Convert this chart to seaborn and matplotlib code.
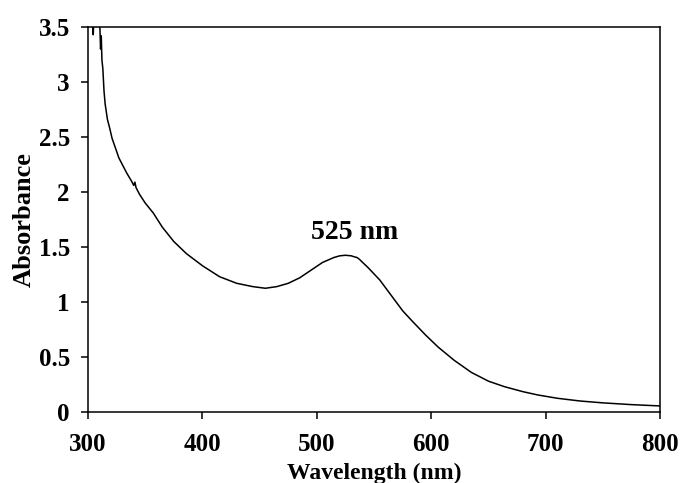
import matplotlib
matplotlib.use("Agg")
import matplotlib.pyplot as plt
import seaborn as sns
import pandas as pd

wavelength = [303.0, 304.0, 304.6, 305.2, 309.5, 310.4, 311.0, 311.6, 312.2, 313.0, 314.0,
              315.0, 317.0, 319.0, 321.0, 324.0, 327.0, 330.0, 334.0, 338.0, 340.0,
              341.0, 342.0, 345.0, 350.0, 357.0, 365.0, 375.0, 386.0, 400.0, 415.0,
              430.0, 444.0, 455.0, 465.0, 475.0, 485.0, 495.0, 505.0, 515.0, 520.0,
              525.0, 530.0, 533.0, 535.0, 537.0, 545.0, 555.0, 565.0, 575.0, 583.0,
              595.0, 606.0, 620.0, 635.0, 650.0, 664.0, 680.0, 693.0, 710.0, 730.0,
              750.0, 775.0, 800.0]
absorbance = [3.6, 3.6, 3.43, 3.6, 3.6, 3.5, 3.3, 3.42, 3.2, 3.12, 2.92,
              2.80, 2.66, 2.58, 2.49, 2.40, 2.31, 2.25, 2.17, 2.10, 2.06,
              2.09, 2.04, 1.98, 1.90, 1.81, 1.68, 1.55, 1.44, 1.33, 1.23,
              1.17, 1.14, 1.125, 1.14, 1.17, 1.22, 1.29, 1.36, 1.405, 1.42,
              1.425, 1.42, 1.41, 1.405, 1.39, 1.31, 1.20, 1.06, 0.92, 0.83,
              0.70, 0.59, 0.47, 0.36, 0.28, 0.23, 0.185, 0.155, 0.125, 0.10,
              0.083, 0.067, 0.055]

x_ticks = [300, 400, 500, 600, 700, 800]
y_ticks = [0, 0.5, 1, 1.5, 2, 2.5, 3, 3.5]
y_tick_labels = ["0", "0.5", "1", "1.5", "2", "2.5", "3", "3.5"]
peak_label = "525 nm"
peak_pos = (533, 1.63)

df = pd.DataFrame({"Wavelength": wavelength, "Absorbance": absorbance})

sns.set_style("ticks")
plt.rcParams["font.family"] = ["Liberation Serif", "DejaVu Serif"]
plt.rcParams["font.weight"] = "bold"
plt.rcParams["text.color"] = "black"
plt.rcParams["axes.labelcolor"] = "black"
plt.rcParams["xtick.color"] = "black"
plt.rcParams["ytick.color"] = "black"

fig = plt.figure(figsize=(6.82, 4.83), dpi=100)
ax = fig.add_axes([0.129, 0.147, 0.839, 0.797])

sns.lineplot(data=df, x="Wavelength", y="Absorbance", ax=ax, color="black",
             linewidth=1.1, sort=False)

ax.set_xlim(300, 800)
ax.set_ylim(0, 3.5)
ax.set_xticks(x_ticks)
ax.set_yticks(y_ticks)
ax.set_yticklabels(y_tick_labels)
for lab in ax.get_xticklabels() + ax.get_yticklabels():
    lab.set_fontweight("bold")
ax.tick_params(axis="both", direction="out", length=5, width=1.1,
               labelsize=18, color="black", labelcolor="black")
ax.tick_params(axis="y", pad=8)
ax.tick_params(axis="x", pad=10)
for s in ax.spines.values():
    s.set_visible(True)
    s.set_linewidth(1.1)
    s.set_color("black")

ax.set_xlabel("Wavelength (nm)", fontsize=17, fontweight="bold", labelpad=5,
              color="black")
ax.set_ylabel("Absorbance", fontsize=19, fontweight="bold", labelpad=2,
              color="black")
ax.text(peak_pos[0], peak_pos[1], peak_label, fontsize=20, fontweight="bold",
        ha="center", va="center", color="black")

fig.savefig("out.png", dpi=100)
